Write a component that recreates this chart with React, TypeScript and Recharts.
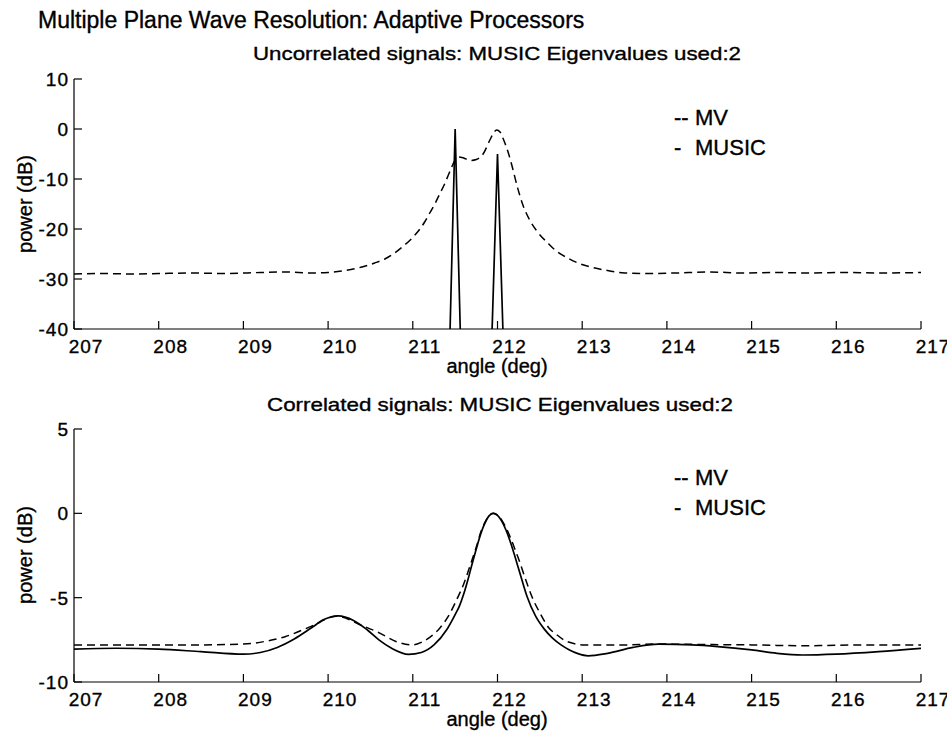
import React from 'react';
import { LineChart, Line, XAxis, YAxis, Legend } from 'recharts';

const FONT = '"Liberation Sans", Arial, Helvetica, sans-serif';

// ---- tick labels ----
const angleTicks = [207, 208, 209, 210, 211, 212, 213, 214, 215, 216, 217];
const topPowerTicks = [-40, -30, -20, -10, 0, 10];
const bottomPowerTicks = [-10, -5, 0, 5];

// ---- texts ----
const mainTitle = 'Multiple Plane Wave Resolution: Adaptive Processors';
const topTitle = 'Uncorrelated signals: MUSIC Eigenvalues used:2';
const bottomTitle = 'Correlated signals: MUSIC Eigenvalues used:2';
const xLabel = 'angle (deg)';
const yLabel = 'power (dB)';
const legendOrder = ['MV', 'MUSIC'];
const legendMarks: Record<string, string> = { MV: '--', MUSIC: '-' };

// ---- top panel: uncorrelated ----
const topMvAngle = [
  207.0, 207.3, 207.7, 208.0, 208.4, 208.8, 209.2, 209.5, 209.8, 210.0, 210.2, 210.4,
  210.55, 210.67, 210.77, 210.89, 210.97, 211.07, 211.14, 211.2, 211.26, 211.32, 211.37,
  211.42, 211.46, 211.5, 211.54, 211.6, 211.68, 211.75, 211.83, 211.91, 211.95, 211.99,
  212.03, 212.08, 212.13, 212.17, 212.23, 212.3, 212.38, 212.46, 212.6, 212.68, 212.84,
  212.95, 213.1, 213.3, 213.5, 213.8, 214.1, 214.5, 214.9, 215.3, 215.7, 216.1, 216.5, 217.0,
];
const topMvPower = [
  -29.0, -28.9, -29.0, -28.9, -28.8, -28.9, -28.7, -28.6, -28.8, -28.7, -28.3, -27.6,
  -26.8, -26.0, -25.0, -23.4, -22.2, -20.3, -18.6, -16.8, -15.0, -12.9, -11.2,
  -9.2, -7.6, -6.2, -5.6, -5.8, -6.3, -6.1, -5.0, -2.2, -0.9, -0.2,
  -0.6, -2.5, -4.9, -7.3, -11.3, -15.2, -18.2, -20.3, -22.9, -24.2, -25.9,
  -26.8, -27.6, -28.3, -28.8, -28.9, -28.8, -28.6, -28.8, -28.7, -28.8, -28.7, -28.8, -28.7,
];
const topMusicAngle = [207, 211.41, 211.5, 211.59, 211.9, 212.0, 212.1, 217];
const topMusicPower = [-60, -60, 0, -60, -60, -5, -60, -60];

// ---- bottom panel: correlated ----
const botMvAngle = [
  207.0, 207.5, 208.0, 208.5, 209.0, 209.3, 209.5, 209.8, 210.1, 210.4, 210.61, 210.8,
  211.0, 211.1, 211.2, 211.32, 211.42, 211.52, 211.6, 211.65, 211.7, 211.75, 211.8, 211.85,
  211.9, 211.95, 212.0, 212.05, 212.1, 212.15, 212.2, 212.26, 212.33, 212.42, 212.5, 212.6,
  212.7, 212.8, 212.9, 213.0, 213.5, 213.9, 214.5, 215.0, 215.6, 216.0, 216.5, 217.0,
];
const botMvPower = [
  -7.8, -7.8, -7.8, -7.8, -7.75, -7.55, -7.3, -6.7, -6.1, -6.65, -7.1, -7.6,
  -7.8, -7.65, -7.35, -6.8, -6.1, -5.1, -4.2, -3.5, -2.75, -2.0, -1.15, -0.55,
  -0.15, 0, -0.1, -0.4, -0.85, -1.4, -2.05, -2.85, -3.9, -5.1, -5.9, -6.75,
  -7.2, -7.55, -7.72, -7.8, -7.8, -7.75, -7.78, -7.8, -7.85, -7.82, -7.8, -7.8,
];
const botMusicAngle = [
  207.0, 207.5, 208.0, 208.5, 209.0, 209.2, 209.4, 209.6, 209.8, 209.95, 210.12, 210.3,
  210.46, 210.6, 210.75, 210.95, 211.1, 211.25, 211.4, 211.5, 211.55, 211.6, 211.65, 211.7,
  211.75, 211.8, 211.85, 211.9, 211.95, 212.0, 212.05, 212.1, 212.15, 212.2, 212.25, 212.3,
  212.35, 212.45, 212.55, 212.65, 212.75, 212.85, 212.95, 213.07, 213.3, 213.6, 213.9, 214.3,
  214.6, 215.0, 215.3, 215.6, 216.0, 216.5, 217.0,
];
const botMusicPower = [
  -8.05, -8.0, -8.05, -8.2, -8.35, -8.25, -7.95, -7.45, -6.8, -6.3, -6.08, -6.35,
  -6.9, -7.5, -8.0, -8.36, -8.25, -7.8, -6.9, -6.0, -5.5, -4.8, -3.95, -3.0,
  -2.1, -1.25, -0.6, -0.15, 0, -0.12, -0.46, -0.99, -1.67, -2.46, -3.3, -4.15,
  -4.95, -6.1, -6.85, -7.4, -7.8, -8.1, -8.32, -8.45, -8.3, -7.95, -7.76, -7.8,
  -7.9, -8.1, -8.3, -8.4, -8.35, -8.2, -8.0,
];

const zip = (xs: number[], ys: number[]) => xs.map((angle, i) => ({ angle, power: ys[i] }));

const topMv = zip(topMvAngle, topMvPower);
const topMusic = zip(topMusicAngle, topMusicPower);
const botMv = zip(botMvAngle, botMvPower);
const botMusic = zip(botMusicAngle, botMusicPower);

const TICK_LEN = 8;
const TXT = { fontSize: 19, fontFamily: FONT, fill: '#000', stroke: '#000', strokeWidth: 0.35 };
const LBL = { ...TXT, fontSize: 20 };

function BottomTick(props: any) {
  const { x, y, payload } = props;
  return (
    <g>
      <line x1={x} x2={x} y1={y} y2={y - TICK_LEN} stroke="#000" strokeWidth={1.2} />
      <text x={x + 12} y={y + 24} textAnchor="middle" letterSpacing={1} {...TXT}>{payload.value}</text>
    </g>
  );
}
function TopTick(props: any) {
  const { x, y } = props;
  return <line x1={x} x2={x} y1={y} y2={y + TICK_LEN} stroke="#000" strokeWidth={1.2} />;
}
function LeftTick(props: any) {
  const { x, y, payload } = props;
  return (
    <g>
      <line x1={x} x2={x + TICK_LEN} y1={y} y2={y} stroke="#000" strokeWidth={1.2} />
      <text x={x - 5} y={y + 7} textAnchor="end" letterSpacing={1} {...TXT}>{payload.value}</text>
    </g>
  );
}
function RightTick(props: any) {
  const { x, y } = props;
  return <line x1={x} x2={x - TICK_LEN} y1={y} y2={y} stroke="#000" strokeWidth={1.2} />;
}

function LegendText(props: any) {
  const payload: any[] = props.payload || [];
  const items = legendOrder
    .map((name) => payload.find((p: any) => p.value === name))
    .filter(Boolean);
  return (
    <div style={{ fontFamily: FONT, fontSize: 22, color: '#000', lineHeight: '30px', WebkitTextStroke: '0.35px #000' }}>
      {items.map((p: any) => (
        <div key={p.value} style={{ display: 'flex', whiteSpace: 'pre' }}>
          <span style={{ width: 21, display: 'inline-block' }}>{legendMarks[p.value]}</span>
          <span>{p.value}</span>
        </div>
      ))}
    </div>
  );
}

const W = 947;
const H = 731;

function Panel(props: {
  top: number; bottom: number; domain: [number, number]; yTicks: number[];
  mv: any[]; music: any[]; legendTop: number; musicType: 'linear' | 'monotone';
}) {
  const { top, bottom, domain, yTicks, mv, music, legendTop, musicType } = props;
  return (
    <div style={{ position: 'absolute', left: 0, top: 0 }}>
      <LineChart width={W} height={H} margin={{ top, right: 26, left: 14, bottom: H - bottom - 30 }}>
        <XAxis
          xAxisId="b" dataKey="angle" type="number" domain={[207, 217]} ticks={angleTicks}
          interval={0} allowDataOverflow height={30} tickSize={0} tickMargin={0}
          tickLine={false} tick={<BottomTick />} stroke="#000" strokeWidth={1.2}
        />
        <XAxis
          xAxisId="t" orientation="top" dataKey="angle" type="number" domain={[207, 217]}
          ticks={angleTicks} interval={0} allowDataOverflow height={0} tickSize={0}
          tickMargin={0} tickLine={false} tick={<TopTick />} stroke="#000" strokeWidth={1.2}
        />
        <YAxis
          yAxisId="l" type="number" domain={domain} ticks={yTicks} interval={0}
          allowDataOverflow width={60} tickSize={0} tickMargin={0} tickLine={false}
          tick={<LeftTick />} stroke="#000" strokeWidth={1.2}
        />
        <YAxis
          yAxisId="r" orientation="right" type="number" domain={domain} ticks={yTicks}
          interval={0} allowDataOverflow width={0} tickSize={0} tickMargin={0}
          tickLine={false} tick={<RightTick />} stroke="#000" strokeWidth={1.2}
        />
        <Legend
          layout="vertical" align="center" verticalAlign="middle" content={<LegendText />}
          wrapperStyle={{ left: 674, top: legendTop, width: 140 }}
        />
        <Line
          xAxisId="b" yAxisId="l" data={mv} dataKey="power" name="MV" type="monotone"
          stroke="#000" strokeWidth={1.5} strokeDasharray="8 5" dot={false}
          isAnimationActive={false}
        />
        <Line
          xAxisId="b" yAxisId="l" data={music} dataKey="power" name="MUSIC" type={musicType}
          stroke="#000" strokeWidth={1.7} dot={false} isAnimationActive={false}
        />
      </LineChart>
    </div>
  );
}

export default function App() {
  return (
    <div style={{ position: 'absolute', left: 0, top: 0, width: W, height: H, background: '#fff', overflow: 'hidden' }}>
      <Panel top={79} bottom={329} domain={[-40, 10]} yTicks={topPowerTicks} mv={topMv}
        music={topMusic} legendTop={103} musicType="linear" />
      <Panel top={429} bottom={682} domain={[-10, 5]} yTicks={bottomPowerTicks} mv={botMv}
        music={botMusic} legendTop={463} musicType="monotone" />
      <svg width={W} height={H} style={{ position: 'absolute', left: 0, top: 0, pointerEvents: 'none' }}>
        <text x={38} y={28} fontSize={23} fontFamily={FONT} fill="#000" stroke="#000" strokeWidth={0.35}>{mainTitle}</text>
        <text x={497} y={60} textAnchor="middle" textLength={488} lengthAdjust="spacingAndGlyphs" {...TXT}>{topTitle}</text>
        <text x={500} y={411} textAnchor="middle" textLength={466} lengthAdjust="spacingAndGlyphs" {...TXT}>{bottomTitle}</text>
        <text x={497} y={373} textAnchor="middle" {...LBL}>{xLabel}</text>
        <text x={497} y={726} textAnchor="middle" {...LBL}>{xLabel}</text>
        <text x={32} y={204} textAnchor="middle" transform="rotate(-90 32 204)" {...LBL}>{yLabel}</text>
        <text x={32} y={555} textAnchor="middle" transform="rotate(-90 32 555)" {...LBL}>{yLabel}</text>
      </svg>
    </div>
  );
}
